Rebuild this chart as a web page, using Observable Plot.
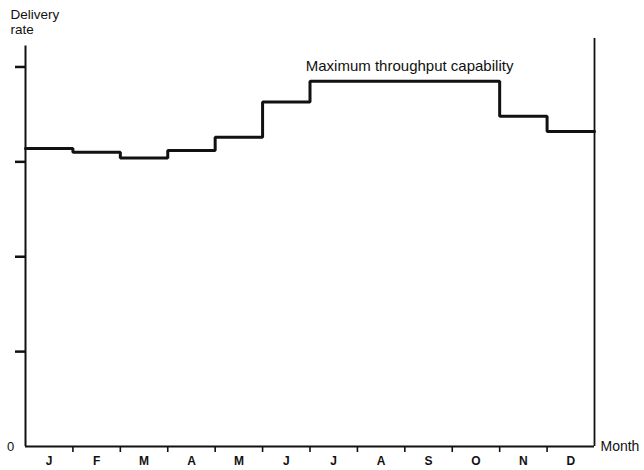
<!DOCTYPE html>
<html><head><meta charset="utf-8">
<script src="https://cdn.jsdelivr.net/npm/d3@7"></script>
<script src="https://cdn.jsdelivr.net/npm/@observablehq/plot@0.6"></script>
<style>
body{margin:0;background:#fff;}
#chart{width:644px;height:470px;}
</style></head><body><div id="chart"></div>
<script>
const months = ["J","F","M","A","M","J","J","A","S","O","N","D"];
const deliveryRate = [3.14, 3.10, 3.04, 3.12, 3.26, 3.63, 3.85, 3.85, 3.85, 3.85, 3.48, 3.32];
const yTicks = [1, 2, 3, 4];
const monthBoundaries = [1,2,3,4,5,6,7,8,9,10,11];
const yLabelLines = ["Delivery", "rate"];
const xLabel = "Month";
const annotation = "Maximum throughput capability";
const leftAxisTop = 4.22;
const rightLineTop = 4.3;

const stepData = deliveryRate.map((v, i) => ({x: i, y: v}));
stepData.push({x: 12, y: deliveryRate[deliveryRate.length - 1]});

const font = "'Liberation Sans', Arial, Helvetica, sans-serif";

const chart = Plot.plot({
  width: 644,
  height: 470,
  marginLeft: 25,
  marginRight: 50,
  marginTop: 38,
  marginBottom: 24,
  style: {fontFamily: font, background: "#fff", color: "#111"},
  x: {domain: [0, 12], axis: null},
  y: {domain: [0, 4.3], axis: null},
  marks: [
    Plot.axisY(yTicks, {tickSize: 10, tickFormat: () => "", label: null, strokeWidth: 2.5, stroke: "#111"}),
    Plot.axisX(monthBoundaries, {tickSize: 6, tickFormat: () => "", label: null, strokeWidth: 1.6, stroke: "#111"}),
    Plot.ruleX([0], {y1: 0, y2: leftAxisTop, stroke: "#111", strokeWidth: 2}),
    Plot.ruleX([12], {y1: 0, y2: rightLineTop, stroke: "#111", strokeWidth: 1.8}),
    Plot.ruleY([0], {x1: 0, x2: 12, stroke: "#111", strokeWidth: 2}),
    Plot.line(stepData, {x: "x", y: "y", curve: "step-after", stroke: "#111", strokeWidth: 3, strokeLinejoin: "miter"}),
    Plot.text(months, {x: (d, i) => i + 0.5, y: 0, dy: 15, text: d => d, fontWeight: "bold", fontSize: 12, fill: "#111"}),
    Plot.text([annotation], {x: 8.1, y: deliveryRate[7], dy: -10, lineAnchor: "bottom", fontSize: 15, fill: "#111"}),
    Plot.text([xLabel], {x: 12, y: 0, dx: 6, textAnchor: "start", fontSize: 14, fill: "#111"}),
    Plot.text(["0"], {x: 0, y: 0, dx: -15, fontSize: 13, fill: "#111"}),
    Plot.text([yLabelLines[0]], {frameAnchor: "top-left", dx: -15, dy: -20, textAnchor: "start", lineAnchor: "bottom", fontSize: 13.5, fill: "#111"}),
    Plot.text([yLabelLines[1]], {frameAnchor: "top-left", dx: -15, dy: -5, textAnchor: "start", lineAnchor: "bottom", fontSize: 13.5, fill: "#111"})
  ]
});
document.getElementById("chart").appendChild(chart);
</script>
</body></html>
